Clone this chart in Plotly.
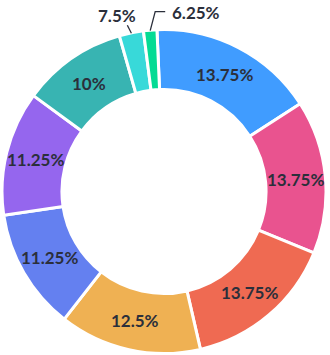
import math
import plotly.graph_objects as go

# Arc size of each segment (degrees of the ring) and the share label printed on it
segments = ["A", "B", "C", "D", "E", "F", "G", "H", "I"]
arc_values = [59.7, 55.1, 54.7, 51.0, 43.6, 44.7, 37.7, 8.7, 4.8]
share_labels = [13.75, 13.75, 13.75, 12.5, 11.25, 11.25, 10, 7.5, 6.25]
colors = ["#409cff", "#e9538f", "#ef6a52", "#efb153", "#6480f0",
          "#9566ee", "#38b4b2", "#38d9d9", "#04db94"]
outside = [False] * 7 + [True] * 2

W, H = 330, 355
cx, cy, R = 164, 191.5, 162      # ring centre and outer radius, px
HOLE = 0.63
ROTATION = -2.5
TEXT_COLOR = "#2b2f3b"
FONT = dict(family="Lato", size=17, color=TEXT_COLOR, weight="bold")

fig = go.Figure(go.Pie(
    labels=segments,
    values=arc_values,
    textinfo="none",
    sort=False,
    direction="clockwise",
    rotation=ROTATION,
    hole=HOLE,
    marker=dict(colors=colors, line=dict(color="white", width=3)),
    domain=dict(x=[(cx - R) / W, (cx + R) / W],
                y=[(H - cy - R) / H, (H - cy + R) / H]),
    automargin=False,
    hoverinfo="skip",
))


def to_paper(px, py):
    return px / W, 1 - py / H


def polar(angle_deg, r, ox=cx, oy=cy):
    a = math.radians(angle_deg)
    return ox + r * math.sin(a), oy - r * math.cos(a)


total = sum(arc_values)
start = ROTATION
r_in, r_out = R * HOLE + 1.5, R - 1.5
r_mid = (r_in + r_out) / 2
shapes = []
annotations = []
for value, share, is_out in zip(arc_values, share_labels, outside):
    span = value / total * 360
    mid = start + span / 2
    start += span
    text = f"{share:g}%"
    if not is_out:
        x, y = to_paper(*polar(mid, r_mid))
        annotations.append(dict(x=x, y=y, xref="paper", yref="paper",
                                text=text, showarrow=False, font=FONT,
                                xanchor="center", yanchor="middle"))
        continue
    p0 = polar(mid, r_out + 1)
    if mid < 350:
        # short leader to a label sitting above-left
        p1 = polar(mid - 15, 9, *p0)
        pts = [p0, p1]
        lx, ly, anchor = p1[0] - 10, p1[1] - 10, "center"
    else:
        # elbow leader to a label on the right
        p1 = (p0[0] + 5, p0[1] - 19)
        p2 = (p1[0] + 10, p1[1])
        pts = [p0, p1, p2]
        lx, ly, anchor = p2[0] + 5, p2[1] + 1, "left"
    path = "M " + " L ".join(f"{px / W},{1 - py / H}" for px, py in pts)
    shapes.append(dict(type="path", path=path, xref="paper", yref="paper",
                       line=dict(color=TEXT_COLOR, width=1.3)))
    x, y = to_paper(lx, ly)
    annotations.append(dict(x=x, y=y, xref="paper", yref="paper",
                            text=text, showarrow=False, font=FONT,
                            xanchor=anchor, yanchor="middle"))

fig.update_layout(
    width=W, height=H,
    margin=dict(l=0, r=0, t=0, b=0),
    showlegend=False,
    paper_bgcolor="white",
    shapes=shapes,
    annotations=annotations,
)

fig.write_html("out.html")
